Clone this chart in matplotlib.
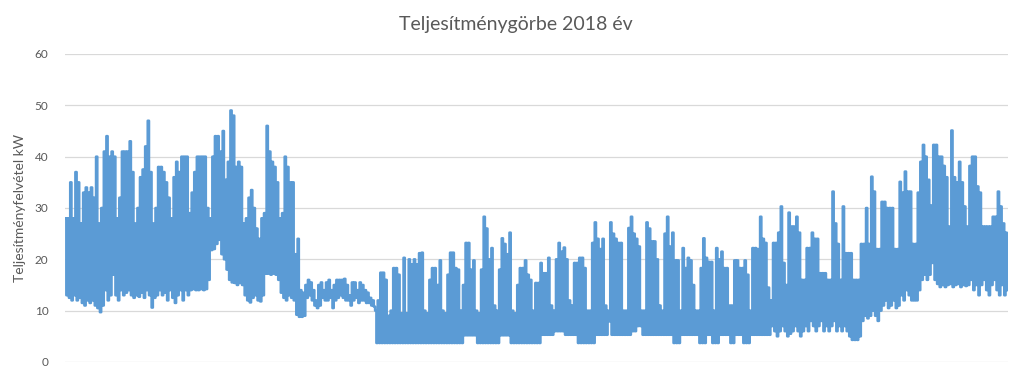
import matplotlib.pyplot as plt
import numpy as np

plt.rcParams['font.family'] = ['Lato', 'DejaVu Sans']

title = "Teljesítménygörbe 2018 év"
y_label = "Teljesítményfelvétel kW"
y_ticks = [0, 10, 20, 30, 40, 50, 60]

# daily peak (kW), day 0 = 1 Jan
day_high = [
    28, 28, 35, 28, 37, 35, 27, 33, 34, 33,
    34, 32, 40, 27, 30, 41, 44, 40, 41, 40,
    28, 32, 41, 41, 41, 43, 37, 27, 30, 36,
    37.5, 42, 47, 37, 27, 30, 38, 38, 37, 35,
    32, 28, 36, 39, 37, 40, 40, 40, 29, 33,
    37, 40, 40, 40, 40, 30, 28, 40, 44, 44,
    41, 45, 35.5, 39, 49, 48, 38, 39, 38, 27,
    28, 32, 33.5, 30, 26, 24, 28, 29, 46, 41,
    39, 38, 35, 28, 29, 40, 38, 35, 35, 21,
    24, 14, 13.5, 15, 16, 15.5, 14, 12, 15, 15.5,
    14, 15.5, 16, 14, 15, 16, 16, 16, 16.2, 15,
    13, 15.5, 15.5, 14, 15.5, 15, 14, 13.5, 12.5, 12,
    10, 12, 17.4, 17.4, 16, 9, 10, 18.3, 18.3, 17,
    9.5, 20.3, 9.5, 20, 19, 20, 19, 21.2, 21.3, 10,
    9.5, 16, 18.3, 18.3, 15, 19.8, 10, 9.5, 17, 21.3,
    21.3, 18.3, 18, 10, 15, 23.2, 23.2, 18, 19.8, 10,
    9.5, 18, 28.3, 26, 20, 22.2, 11, 10, 18, 24.1,
    23, 21, 25.2, 10, 9.5, 15, 18.3, 18.3, 19.8, 17,
    16, 10, 15.4, 15.4, 19.3, 17.3, 17.3, 20.3, 11, 10,
    20, 23.2, 21.5, 22.3, 20, 12, 11, 19.3, 19.3, 20.3,
    20.3, 18.3, 10, 10, 23.2, 27.2, 24, 22, 24, 11,
    10, 27.2, 25, 24, 23.2, 23.2, 10, 10, 26.1, 28.3,
    25, 24, 22.5, 10, 10, 27.2, 26, 23.5, 23.5, 20,
    11, 10, 25, 28.3, 22.5, 25.2, 19.8, 19.8, 10, 22.2,
    18.3, 20.3, 19.8, 15, 10, 10, 18.3, 24.1, 20.3, 19.5,
    19.5, 10, 22.2, 20, 21.5, 18.3, 18.3, 11, 11, 19.8,
    19.8, 18.3, 18.3, 19.8, 17, 10, 22.2, 22.2, 22, 28.3,
    24, 23.2, 14.5, 12, 23.2, 23.2, 25.2, 30.3, 19.3, 15,
    29.1, 26.4, 26.4, 28.3, 25.2, 16, 16, 22.2, 22.2, 25.2,
    24, 24, 17.3, 17.3, 17.3, 16, 16, 33.2, 27, 23,
    16, 30.3, 21.2, 21.2, 21.2, 16, 16, 16, 23, 23,
    30, 23, 36.1, 33.2, 22, 22, 31.2, 31.2, 30, 30,
    30, 22, 22, 35.1, 33, 37.1, 33.2, 33.2, 23, 23,
    33, 39, 42.3, 40, 35.5, 30.5, 42.3, 42.3, 40, 40,
    38.2, 36, 26.4, 45.1, 36, 35, 39, 35, 30.3, 26.4,
    38.2, 40, 40, 34.2, 33, 26.4, 26.4, 26.4, 26.4, 28.3,
    28.3, 33.2, 30.3, 27, 25.2,
]

# daily minimum (kW)
day_low = [
    13, 12.5, 12, 13, 12, 12.5, 11.5, 11, 12, 11.5,
    12, 11, 10.5, 9.7, 11, 14, 12, 13, 17, 13,
    12, 14, 13, 13.5, 14, 13, 12.5, 13, 12.7, 13.5,
    12.5, 14, 13, 10.6, 12.5, 13, 14, 13, 13.5, 12,
    14, 12.5, 11.5, 13, 14, 12, 14, 13, 14, 14.2,
    14, 14, 14.2, 14, 14.2, 16, 21.8, 22, 23, 23.8,
    21, 20, 18, 16, 15.5, 15.4, 15, 15.4, 15, 13,
    12, 11.6, 12.5, 13, 12, 11.8, 13, 17.2, 17.2, 17,
    17.2, 17, 16, 13.5, 12.5, 12, 13, 12.5, 12, 9.2,
    8.8, 8.8, 9, 12.5, 13, 12, 11, 10.5, 11, 12.5,
    12, 12, 12.5, 10.5, 12, 12.5, 13, 12.5, 12, 12,
    11, 12, 12.5, 11.5, 12, 12, 11.5, 11.5, 11, 10.8,
    3.7, 3.7, 3.7, 3.7, 3.7, 3.7, 3.7, 3.7, 3.7, 3.7,
    3.7, 3.7, 3.7, 3.7, 3.7, 3.7, 3.7, 3.7, 3.7, 3.7,
    3.7, 3.7, 3.7, 3.7, 3.7, 3.7, 3.7, 3.7, 3.7, 3.7,
    3.7, 3.7, 3.7, 3.7, 5.2, 5.2, 5.2, 5.2, 5.2, 3.7,
    3.7, 3.7, 3.7, 3.7, 3.7, 3.7, 3.7, 3.7, 5.2, 5.2,
    5.2, 5.2, 3.7, 3.7, 3.7, 3.7, 3.7, 3.7, 3.7, 3.7,
    3.7, 3.7, 3.7, 3.7, 5.3, 5.3, 5.3, 5.3, 5.3, 6,
    6, 6, 6, 5.3, 5.3, 5.3, 5.3, 5.3, 3.7, 3.7,
    3.7, 3.7, 3.7, 3.7, 3.7, 5.3, 5.3, 5.3, 5.3, 5.3,
    7.9, 5.3, 5.3, 5.3, 5.3, 5.3, 5.3, 5.3, 5.3, 6,
    6, 7, 7, 5.3, 5.3, 5.3, 5.3, 5.3, 5.3, 5.3,
    5.3, 5.3, 5.3, 5.3, 5.3, 3.7, 3.7, 3.7, 5.3, 5.3,
    5.3, 5.3, 5.3, 5.3, 5.3, 3.7, 3.7, 3.7, 5.3, 5.3,
    3.7, 3.7, 3.7, 5.3, 5.3, 5.3, 5.3, 3.7, 3.7, 5.3,
    5.3, 5.3, 3.7, 3.7, 3.7, 5.3, 5.3, 5.3, 5.3, 5.3,
    5.3, 5.3, 5.3, 7, 6, 5, 6, 7, 6, 5,
    5.5, 6, 7, 6, 5, 6, 7, 6, 8, 7,
    6, 7, 8, 6, 7, 6, 7, 8, 6, 7,
    6, 7, 6, 5, 4.3, 4.3, 4.3, 5, 8, 9,
    8.5, 9, 10, 9, 8, 10, 11, 12, 10.5, 11,
    12, 10.5, 11, 13, 12, 14, 13, 12, 12, 12,
    14, 16, 17, 16, 17, 19.3, 16, 15.2, 14.6, 15,
    14.6, 15, 15.2, 14.6, 15, 15.2, 14.6, 15, 14.8, 15,
    16, 14, 15, 13, 15, 16, 14, 13, 15, 16,
    14, 13, 15, 13, 14,
]

# high half of each day then low half
values = np.column_stack((day_high, day_low)).ravel()
x = np.arange(len(values)) / 2.0

fig = plt.figure(figsize=(10.24, 3.77), dpi=100)
ax = fig.add_axes([0.0635, 0.0398, 0.921, 0.817])

ax.plot(x, values, color='#5B9BD5', lw=1.8, drawstyle='steps-mid')

ax.set_xlim(-0.25, 364.75)
ax.set_ylim(0, 60)
ax.set_yticks(y_ticks)
ax.set_xticks([])
ax.grid(axis='y', color='#D9D9D9', lw=0.9)
ax.set_axisbelow(True)
for s in ['top', 'right', 'left', 'bottom']:
    ax.spines[s].set_visible(False)
ax.tick_params(axis='y', length=0, pad=12, labelsize=8.5, labelcolor='#595959')

ax.set_ylabel(y_label, fontsize=10, color='#595959', labelpad=6)
fig.text(0.504, 0.934, title, ha='center', va='center', fontsize=14, color='#595959')

fig.savefig('out.png', dpi=100)
